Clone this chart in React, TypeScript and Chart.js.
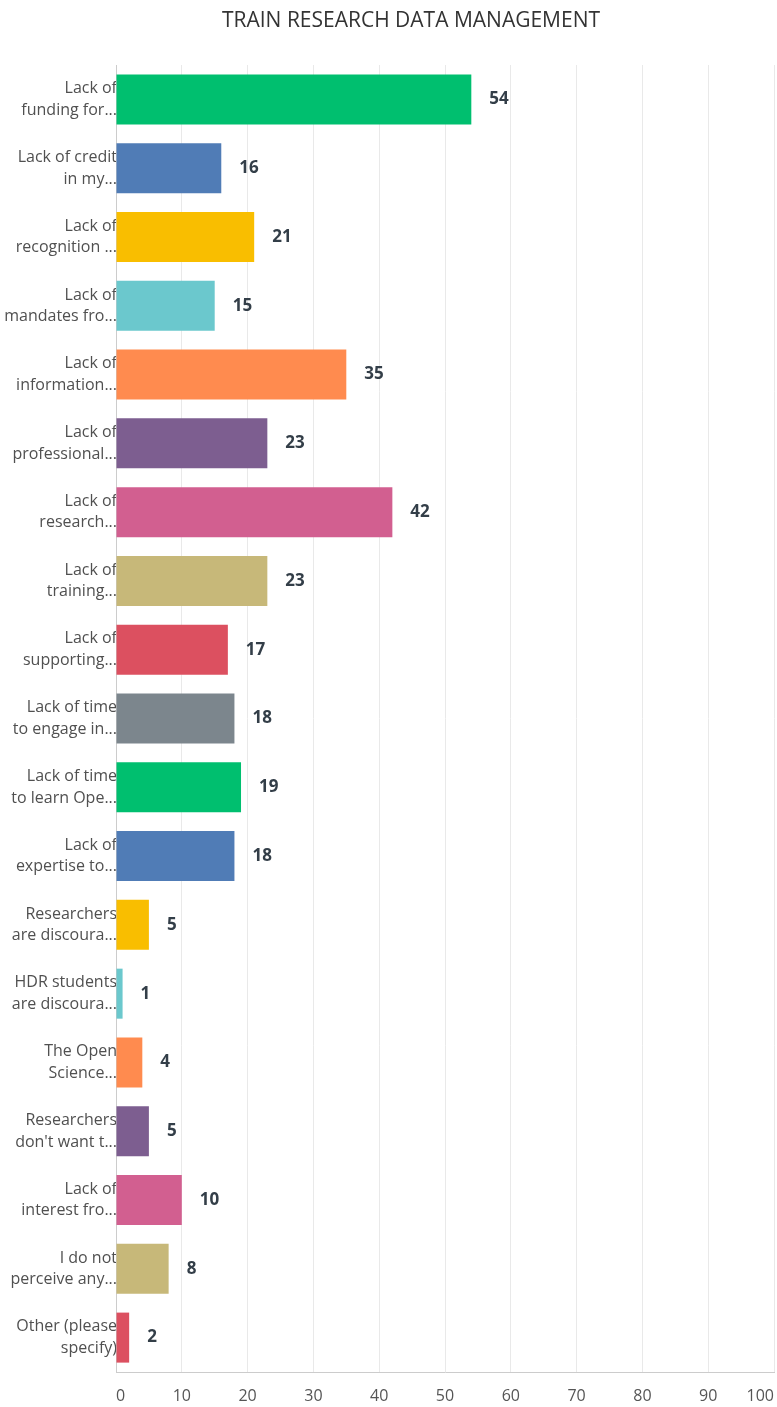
import React, { useEffect, useRef } from "react";
import { Chart, registerables } from "chart.js";

Chart.register(...registerables);

const TITLE = "TRAIN RESEARCH DATA MANAGEMENT";

const categories: string[][] = [
  ["Lack of", "funding for..."],
  ["Lack of credit", "in my..."],
  ["Lack of", "recognition ..."],
  ["Lack of", "mandates fro..."],
  ["Lack of", "information..."],
  ["Lack of", "professional..."],
  ["Lack of", "research..."],
  ["Lack of", "training..."],
  ["Lack of", "supporting..."],
  ["Lack of time", "to engage in..."],
  ["Lack of time", "to learn Ope..."],
  ["Lack of", "expertise to..."],
  ["Researchers", "are discoura..."],
  ["HDR students", "are discoura..."],
  ["The Open", "Science..."],
  ["Researchers", "don't want t..."],
  ["Lack of", "interest fro..."],
  ["I do not", "perceive any..."],
  ["Other (please", "specify)"],
];

const values: number[] = [54, 16, 21, 15, 35, 23, 42, 23, 17, 18, 19, 18, 5, 1, 4, 5, 10, 8, 2];

const palette: string[] = [
  "#00BF6F",
  "#507CB6",
  "#F9BE00",
  "#6BC8CD",
  "#FF8B4F",
  "#7D5E90",
  "#D25F90",
  "#C7B879",
  "#DC5060",
  "#7C868D",
];

const xTicks: number[] = [0, 10, 20, 30, 40, 50, 60, 70, 80, 90, 100];

const FONT = "'Open Sans', sans-serif";

export default function App() {
  const ref = useRef<HTMLCanvasElement | null>(null);

  useEffect(() => {
    document.body.style.margin = "0";
    const canvas = ref.current;
    if (!canvas) return;

    const valueLabels = {
      id: "valueLabels",
      afterDatasetsDraw(chart: any) {
        const ctx = chart.ctx;
        const meta = chart.getDatasetMeta(0);
        ctx.save();
        ctx.font = `bold 17px ${FONT}`;
        ctx.fillStyle = "#333E48";
        ctx.textAlign = "left";
        ctx.textBaseline = "middle";
        meta.data.forEach((bar: any, i: number) => {
          ctx.fillText(String(values[i]), bar.x + 18, bar.y);
        });
        ctx.restore();
      },
    };

    const titlePlugin = {
      id: "customTitle",
      afterDraw(chart: any) {
        const ctx = chart.ctx;
        ctx.save();
        ctx.font = `21px ${FONT}`;
        ctx.fillStyle = "#333333";
        ctx.textAlign = "center";
        ctx.textBaseline = "middle";
        ctx.fillText(TITLE, 411, 21);
        ctx.restore();
      },
    };

    const chart = new Chart(canvas, {
      type: "bar",
      data: {
        labels: categories,
        datasets: [
          {
            data: values,
            backgroundColor: values.map((_, i) => palette[i % palette.length]),
            borderWidth: 0,
            barPercentage: 0.727,
            categoryPercentage: 1,
          },
        ],
      },
      options: {
        indexAxis: "y",
        animation: false,
        responsive: false,
        maintainAspectRatio: false,
        layout: { padding: { top: 65, right: 3, left: 0, bottom: 0 } },
        plugins: {
          legend: { display: false },
          title: { display: false },
          tooltip: { enabled: false },
        },
        scales: {
          x: {
            min: 0,
            max: 100,
            afterBuildTicks(scale: any) {
              scale.ticks = xTicks.map((v) => ({ value: v }));
            },
            afterFit(scale: any) {
              scale.height = 35;
              scale.paddingLeft = 0;
              scale.paddingRight = 0;
            },
            grid: {
              color: "#E9E9E9",
              drawTicks: false,
              lineWidth: 1,
            },
            border: { color: "#CCCCCC", width: 1 },
            ticks: {
              padding: 15,
              color: "#555555",
              font: { family: FONT, size: 16 },
              maxRotation: 0,
              autoSkip: false,
              align: "inner",
            },
          },
          y: {
            afterFit(scale: any) {
              scale.width = 116;
              scale.paddingTop = 0;
              scale.paddingBottom = 0;
            },
            grid: { display: false, drawTicks: false },
            border: { color: "#CCCCCC", width: 1 },
            ticks: {
              padding: -1,
              color: "#505050",
              font: { family: FONT, size: 16, lineHeight: 1.35 },
              autoSkip: false,
            },
          },
        },
      },
      plugins: [valueLabels, titlePlugin],
    });

    return () => chart.destroy();
  }, []);

  return (
    <div style={{ width: 777, height: 1407 }}>
      <canvas ref={ref} width={777} height={1407} style={{ display: "block" }} />
    </div>
  );
}
